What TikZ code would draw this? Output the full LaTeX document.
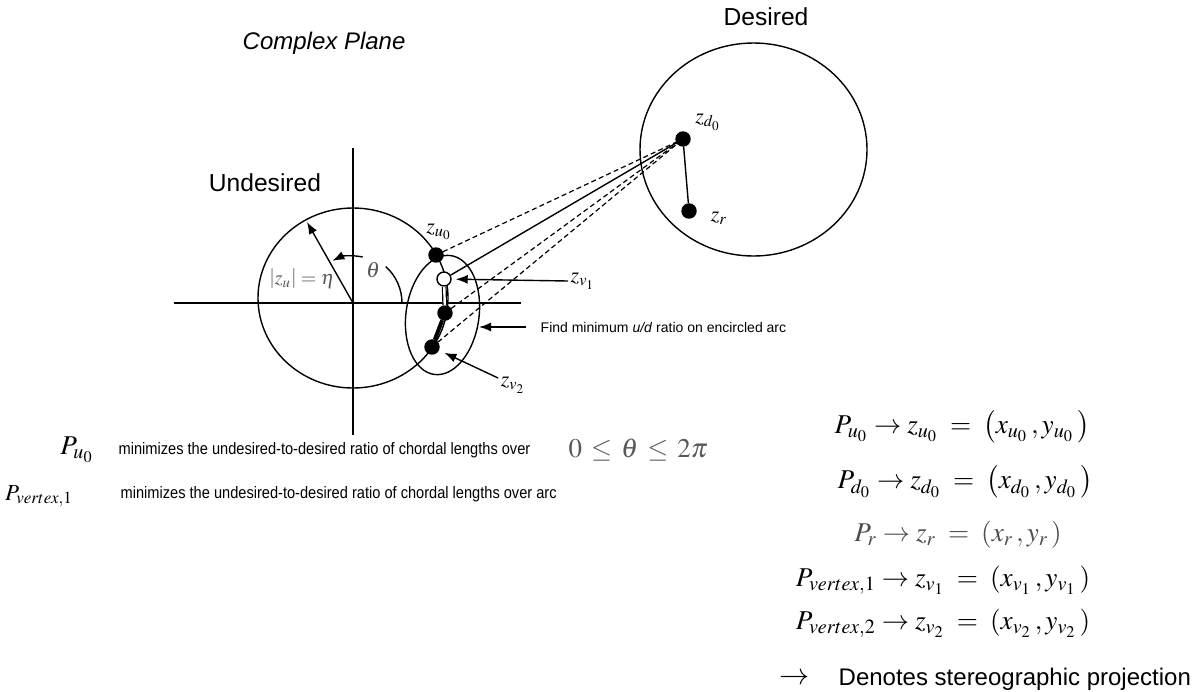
\documentclass[tikz,border=0pt]{standalone}
\usepackage{mathptmx}
\usepackage{fontspec}
\setmainfont{Liberation Sans}
\newfontfamily\narrowfont{Liberation Sans}[FakeStretch=0.88]
\usepackage{tikz}
\usetikzlibrary{positioning}
\usetikzlibrary{arrows.meta}
\tikzset{>={Latex[length=6pt,width=4.5pt]}}
\tikzstyle{dot} = [circle, fill=black, draw=black, inner sep=0, minimum size=7pt]
\tikzstyle{hollow} = [circle, fill=white, draw=black, line width=0.7pt, inner sep=0, minimum size=7pt]
\tikzstyle{chord} = [dash pattern=on 2.5pt off 1.6pt, line width=0.6pt]
\tikzstyle{heading} = [draw=none, inner sep=1, font=\fontsize{12.3}{14}\selectfont]
\tikzstyle{ptlab} = [draw=none, inner sep=1, font=\fontsize{11}{13}\selectfont]
\tikzstyle{note} = [draw=none, inner sep=1, anchor=west, font=\fontsize{8.3}{10}\selectfont\narrowfont]
\tikzstyle{eqn} = [draw=none, inner sep=1, font=\fontsize{13.6}{16}\selectfont]

\begin{document}
\begin{tikzpicture}[x=0.5pt, y=0.5pt, line width=0.7pt]
\useasboundingbox (0,0) rectangle (1192,-691);

% axes of the plane
\coordinate (O) at (353,-303);
\coordinate (xl) at (174,-303);
\coordinate (xr) at (521,-303);
\coordinate (yt) at (353,-148);
\coordinate (yb) at (353,-435);
\draw (xl) -- (xr);
\draw (yt) -- (yb);

\node [heading, font=\fontsize{12}{14}\selectfont\itshape, anchor=west] (plane) at (240,-43) {Complex Plane};
\node [heading] (undes) at (265,-183) {Undesired};
\node [heading] (des) at (766,-17) {Desired};

% circles
\draw (353,-298) ellipse [x radius=95, y radius=90];
\draw (753.5,-149.5) ellipse [x radius=113.5, y radius=106.5];
\draw [rotate around={-8:(442.5,-315)}] (442.5,-315) ellipse [x radius=36.5, y radius=60];

% radius and angle
\coordinate (rtip) at (307,-222);
\draw [->] (O) -- (rtip);
\draw (402,-303) arc [start angle=0, end angle=48, radius=49];
\draw [->] ([shift={(78:47)}]O) arc [start angle=78, end angle=116, radius=47];
\node [ptlab, text=gray!70!black] (theta) at (373,-270) {$\theta$};
\node [ptlab, font=\fontsize{10}{12}\selectfont, text=gray!70!black] (eta) at (302,-279) {$\left|z_u\right| = \eta$};

% points
\node [dot] (zd0) at (683,-139) {};
\node [dot] (zr) at (689,-211) {};
\node [dot] (zu0) at (436,-255) {};
\node [hollow] (zv1) at (444,-279) {};
\node [dot] (zm) at (445,-313) {};
\node [dot] (zv2) at (432,-347) {};

\draw (zd0) -- (zr);
\draw (zv1) -- (zd0);
\draw [chord] (zu0) -- (zd0);
\draw [chord] (zm) -- (zd0);
\draw [chord] (zv2) -- (zd0);
\draw [double, line width=0.6pt, double distance=1.2pt] (zv1) -- (zm);
\draw [line width=2pt] (zm) -- (zv2);

\node [ptlab] (zd0lab) at (708,-122) {$z_{d_0}$};
\node [ptlab] (zrlab) at (719,-218) {$z_r$};
\node [ptlab] (zu0lab) at (439,-232) {$z_{u_0}$};
\node [ptlab, anchor=west] (zv1lab) at (568,-281) {$z_{v_1}$};
\node [ptlab] (zv2lab) at (513,-385) {$z_{v_2}$};
\node [note, font=\fontsize{7}{9}\selectfont] (findtxt) at (538,-327) {Find minimum \textit{u/d} ratio on encircled arc};

\coordinate (encE) at (479,-327);
\draw [->, shorten >=2pt] (zv1lab.west) -- (zv1);
\draw [->, shorten <=6pt] (findtxt.west) -- (encE);
\draw [->, shorten >=3pt] (zv2lab) -- (zv2);

% notes below
\node [eqn] (pu0) at (77,-450) {$P_{u_0}$};
\node [note] (note1) at (116,-450) {minimizes the undesired-to-desired ratio of chordal lengths over};
\node [eqn, font=\fontsize{13.5}{16}\selectfont, text=gray!70!black, anchor=west] (range) at (566,-450) {$0 \,\le\, \theta \,\le\, 2\pi$};
\node [eqn, font=\fontsize{11.5}{14}\selectfont] (pv1) at (39,-496) {$P_{vertex,1}$};
\node [note] (note2) at (118,-494) {minimizes the undesired-to-desired ratio of chordal lengths over arc};

% projections
\node [eqn] (eq1) at (962,-427) {$P_{u_0} \rightarrow z_{u_0} \;=\; \left(x_{u_0}\,, y_{u_0}\,\right)$};
\node [eqn] (eq2) at (965,-482) {$P_{d_0} \rightarrow z_{d_0} \;=\; \left(x_{d_0}\,, y_{d_0}\,\right)$};
\node [eqn, text=gray!60!black] (eq3) at (958,-535) {$P_{r} \rightarrow z_{r} \;=\; \left(x_{r}\,, y_{r}\,\right)$};
\node [eqn] (eq4) at (943,-580) {$P_{vertex,1} \rightarrow z_{v_1} \;=\; \left(x_{v_1}\,, y_{v_1}\,\right)$};
\node [eqn] (eq5) at (943,-623) {$P_{vertex,2} \rightarrow z_{v_2} \;=\; \left(x_{v_2}\,, y_{v_2}\,\right)$};
\node [eqn, font=\fontsize{15}{17}\selectfont] (arrlab) at (794,-679) {$\rightarrow$};
\node [heading, font=\fontsize{12}{14}\selectfont, anchor=west] (denote) at (836,-679) {Denotes stereographic projection};
\end{tikzpicture}
\end{document}
